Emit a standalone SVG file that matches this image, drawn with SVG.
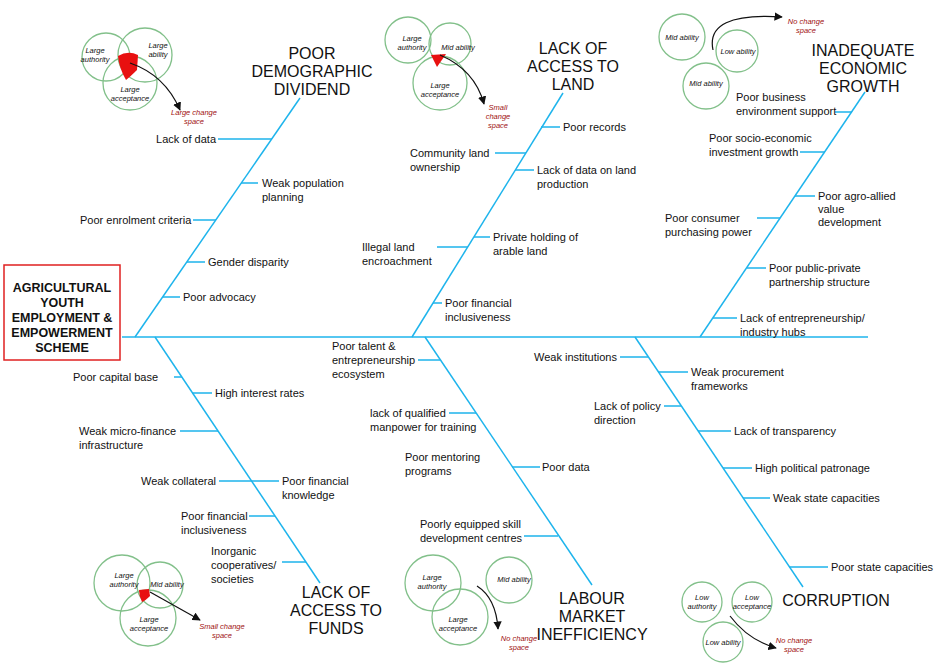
<svg xmlns="http://www.w3.org/2000/svg" width="943" height="668" viewBox="0 0 943 668">
<defs>
<style>
.b{stroke:#1eb4ec;stroke-width:1.5;fill:none}
.l{font-family:"Liberation Sans",Arial,sans-serif;font-size:11px;fill:#111}
.t{font-family:"Liberation Sans",Arial,sans-serif;font-size:16px;fill:#111;text-anchor:middle}
.h{font-family:"Liberation Sans",Arial,sans-serif;font-size:12.5px;font-weight:bold;fill:#111;text-anchor:middle}
.c{fill:none;stroke:#82c08a;stroke-width:1.3}
.v{font-family:"Liberation Sans",Arial,sans-serif;font-size:7.5px;font-style:italic;fill:#111;text-anchor:middle}
.r{font-family:"Liberation Sans",Arial,sans-serif;font-size:7.5px;font-style:italic;fill:#a01010;text-anchor:middle}
.a{fill:none;stroke:#111;stroke-width:1.2;marker-end:url(#ar)}
</style>
<marker id="ar" viewBox="0 0 10 10" refX="9" refY="5" markerWidth="7" markerHeight="7" orient="auto"><path d="M0,0L10,5L0,10z" fill="#111"/></marker>
</defs>
<rect width="943" height="668" fill="#fff"/>
<g id="connectors">
<line class="b" x1="122" y1="337" x2="868" y2="337"/>
<line class="b" x1="135" y1="337" x2="300" y2="98"/>
<line class="b" x1="412" y1="337" x2="563" y2="93"/>
<line class="b" x1="700" y1="337" x2="865" y2="92"/>
<line class="b" x1="155" y1="337" x2="320" y2="583"/>
<line class="b" x1="425" y1="337" x2="592" y2="585"/>
<line class="b" x1="635" y1="337" x2="803" y2="587"/>
<path class="b" d="M218,139H272M241,183H258M193,220H216M187,262H205M163,297H180"/>
<path class="b" d="M541,127H560M495,153H526M515,170H534M474,237H490M437,247H468M433,303H442"/>
<path class="b" d="M835,112H852M800,152H825M795,196H815M757,218H780M747,268H766M713,318H737"/>
<path class="b" d="M174,377H182M192,393H212M180,431H218M219,481H279M249,516H275M282,562H306"/>
<path class="b" d="M418,360H440M449,413H476M512,467H540M524,536H558"/>
<path class="b" d="M620,357H648M658,372H688M664,406H681M698,431H731M723,468H752M743,498H770M789,567H828"/>
</g>
<g id="head">
<rect x="4" y="265" width="116" height="95" fill="#fff" stroke="#e02020" stroke-width="1.5"/>
<text class="h" x="62" y="292">AGRICULTURAL</text>
<text class="h" x="62" y="307">YOUTH</text>
<text class="h" x="62" y="322">EMPLOYMENT &amp;</text>
<text class="h" x="62" y="337">EMPOWERMENT</text>
<text class="h" x="62" y="352">SCHEME</text>
</g>
<g id="demographic">
<text class="t" x="312" y="59">POOR</text><text class="t" x="312" y="77">DEMOGRAPHIC</text><text class="t" x="312" y="95">DIVIDEND</text>
<text class="l" x="216" y="143" text-anchor="end">Lack of data</text>
<text class="l" x="262" y="187">Weak population</text><text class="l" x="262" y="201">planning</text>
<text class="l" x="80" y="224">Poor enrolment criteria</text>
<text class="l" x="208" y="266">Gender disparity</text>
<text class="l" x="183" y="301">Poor advocacy</text>
</g>
<g id="land">
<text class="t" x="573" y="54">LACK OF</text><text class="t" x="573" y="72">ACCESS TO</text><text class="t" x="573" y="90">LAND</text>
<text class="l" x="563" y="131">Poor records</text>
<text class="l" x="410" y="157">Community land</text><text class="l" x="410" y="171">ownership</text>
<text class="l" x="537" y="174">Lack of data on land</text><text class="l" x="537" y="188">production</text>
<text class="l" x="493" y="241">Private holding of</text><text class="l" x="493" y="255">arable land</text>
<text class="l" x="362" y="251">Illegal land</text><text class="l" x="362" y="265">encroachment</text>
<text class="l" x="445" y="307">Poor financial</text><text class="l" x="445" y="321">inclusiveness</text>
</g>
<g id="growth">
<text class="t" x="863" y="56">INADEQUATE</text><text class="t" x="863" y="74">ECONOMIC</text><text class="t" x="863" y="92">GROWTH</text>
<text class="l" x="736" y="101">Poor business</text><text class="l" x="736" y="115">environment support</text>
<text class="l" x="709" y="142">Poor socio-economic</text><text class="l" x="709" y="156">investment growth</text>
<text class="l" x="818" y="200">Poor agro-allied</text><text class="l" x="818" y="213">value</text><text class="l" x="818" y="226">development</text>
<text class="l" x="665" y="222">Poor consumer</text><text class="l" x="665" y="236">purchasing power</text>
<text class="l" x="769" y="272">Poor public-private</text><text class="l" x="769" y="286">partnership structure</text>
<text class="l" x="740" y="322">Lack of entrepreneurship/</text><text class="l" x="740" y="336">industry hubs</text>
</g>
<g id="funds">
<text class="t" x="336" y="598">LACK OF</text><text class="t" x="336" y="616">ACCESS TO</text><text class="t" x="336" y="634">FUNDS</text>
<text class="l" x="73" y="381">Poor capital base</text>
<text class="l" x="215" y="397">High interest rates</text>
<text class="l" x="79" y="435">Weak micro-finance</text><text class="l" x="79" y="449">infrastructure</text>
<text class="l" x="141" y="485">Weak collateral</text>
<text class="l" x="282" y="485">Poor financial</text><text class="l" x="282" y="499">knowledge</text>
<text class="l" x="181" y="520">Poor financial</text><text class="l" x="181" y="534">inclusiveness</text>
<text class="l" x="211" y="555">Inorganic</text><text class="l" x="211" y="569">cooperatives/</text><text class="l" x="211" y="583">societies</text>
</g>
<g id="labour">
<text class="t" x="592" y="604">LABOUR</text><text class="t" x="592" y="622">MARKET</text><text class="t" x="592" y="640">INEFFICIENCY</text>
<text class="l" x="332" y="350">Poor talent &amp;</text><text class="l" x="332" y="364">entrepreneurship</text><text class="l" x="332" y="378">ecosystem</text>
<text class="l" x="370" y="417">lack of qualified</text><text class="l" x="370" y="431">manpower for training</text>
<text class="l" x="405" y="461">Poor mentoring</text><text class="l" x="405" y="475">programs</text>
<text class="l" x="542" y="471">Poor data</text>
<text class="l" x="420" y="528">Poorly equipped skill</text><text class="l" x="420" y="542">development centres</text>
</g>
<g id="corruption">
<text class="t" x="836" y="606">CORRUPTION</text>
<text class="l" x="534" y="361">Weak institutions</text>
<text class="l" x="691" y="376">Weak procurement</text><text class="l" x="691" y="390">frameworks</text>
<text class="l" x="594" y="410">Lack of policy</text><text class="l" x="594" y="424">direction</text>
<text class="l" x="734" y="435">Lack of transparency</text>
<text class="l" x="755" y="472">High political patronage</text>
<text class="l" x="773" y="502">Weak state capacities</text>
<text class="l" x="831" y="571">Poor state capacities</text>
</g>
<g id="venn1">
<circle class="c" cx="106" cy="57" r="24"/><circle class="c" cx="145" cy="55" r="27"/><circle class="c" cx="130" cy="83" r="27"/>
<path d="M118,56Q128,50 138,55L137,70Q131,76 126,80Q119,68 118,56z" fill="#e81010"/>
<text class="v" x="95" y="53">Large</text><text class="v" x="95" y="62">authority</text>
<text class="v" x="158" y="48">Large</text><text class="v" x="158" y="57">ability</text>
<text class="v" x="130" y="92">Large</text><text class="v" x="130" y="101">acceptance</text>
<path class="a" d="M130,63Q165,75 180,110"/>
<text class="r" x="194" y="115">Large change</text><text class="r" x="194" y="124">space</text>
</g>
<g id="venn2">
<circle class="c" cx="408" cy="40" r="23"/><circle class="c" cx="450" cy="44" r="21"/><circle class="c" cx="440" cy="83" r="27"/>
<path d="M431,55L446,54L437,67z" fill="#e81010"/>
<text class="v" x="412" y="41">Large</text><text class="v" x="412" y="50">authority</text>
<text class="v" x="458" y="50">Mid ability</text>
<text class="v" x="440" y="88">Large</text><text class="v" x="440" y="97">acceptance</text>
<path class="a" d="M440,55Q475,70 484,104"/>
<text class="r" x="498" y="110">Small</text><text class="r" x="498" y="119">change</text><text class="r" x="498" y="128">space</text>
</g>
<g id="venn3">
<circle class="c" cx="682" cy="37" r="23"/><circle class="c" cx="737" cy="51" r="21"/><circle class="c" cx="706" cy="86" r="23"/>
<text class="v" x="682" y="40">Mid ability</text><text class="v" x="738" y="54">Low ability</text><text class="v" x="706" y="86">Mid ability</text>
<path class="a" d="M713,50Q705,12 782,17"/>
<text class="r" x="806" y="24">No change</text><text class="r" x="806" y="33">space</text>
</g>
<g id="venn4">
<circle class="c" cx="122" cy="583" r="28"/><circle class="c" cx="160" cy="585" r="23"/><circle class="c" cx="148" cy="618" r="28"/>
<path d="M139,590L149,589L150,596Q145,601 142,602Q139,596 139,590z" fill="#e81010"/>
<text class="v" x="124" y="578">Large</text><text class="v" x="124" y="587">authority</text>
<text class="v" x="167" y="587">Mid ability</text>
<text class="v" x="149" y="622">Large</text><text class="v" x="149" y="631">acceptance</text>
<path class="a" d="M150,592L200,620"/>
<text class="r" x="222" y="629">Small change</text><text class="r" x="222" y="638">space</text>
</g>
<g id="venn5">
<circle class="c" cx="433" cy="583" r="28"/><circle class="c" cx="509" cy="580" r="23"/><circle class="c" cx="460" cy="617" r="28"/>
<text class="v" x="432" y="580">Large</text><text class="v" x="432" y="589">authority</text>
<text class="v" x="514" y="582">Mid ability</text>
<text class="v" x="458" y="622">Large</text><text class="v" x="458" y="631">acceptance</text>
<path class="a" d="M477,586Q496,598 498,629"/>
<text class="r" x="519" y="641">No change</text><text class="r" x="519" y="650">space</text>
</g>
<g id="venn6">
<circle class="c" cx="702" cy="602" r="20"/><circle class="c" cx="752" cy="602" r="20"/><circle class="c" cx="723" cy="642" r="20"/>
<text class="v" x="702" y="600">Low</text><text class="v" x="702" y="609">authority</text>
<text class="v" x="752" y="600">Low</text><text class="v" x="752" y="609">acceptance</text>
<text class="v" x="723" y="645">Low ability</text>
<path class="a" d="M730,616Q748,640 776,648"/>
<text class="r" x="794" y="643">No change</text><text class="r" x="794" y="652">space</text>
</g>
</svg>
